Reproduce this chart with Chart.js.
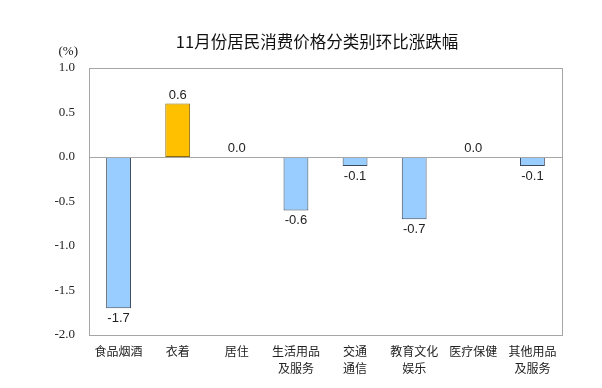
<!DOCTYPE html>
<html>
<head>
<meta charset="utf-8">
<script src="https://cdn.jsdelivr.net/npm/chart.js@4"></script>
<style>
  html, body { margin: 0; padding: 0; background: #fff; }
  #wrap { width: 602px; height: 388px; position: relative; }
</style>
</head>
<body>
<div id="wrap"><canvas id="cpiChart"></canvas></div>
<script>
const categories = [
  ["食品烟酒"], ["衣着"], ["居住"], ["生活用品", "及服务"],
  ["交通", "通信"], ["教育文化", "娱乐"], ["医疗保健"], ["其他用品", "及服务"],
];
const changes = [-1.7, 0.6, 0.0, -0.6, -0.1, -0.7, 0.0, -0.1];
const yTicks = [1.0, 0.5, 0.0, -0.5, -1.0, -1.5, -2.0];

const titleText = "11月份居民消费价格分类别环比涨跌幅";
const unitText = "(%)";

const cjkFont = "'Noto Sans CJK SC', 'Liberation Sans', sans-serif";
const serifFont = "'Liberation Serif', 'DejaVu Serif', serif";

const frame = {
  id: "frame",
  afterDatasetsDraw(chart) {
    const { ctx, chartArea: a, scales } = chart;
    ctx.save();
    ctx.strokeStyle = "#a6a6a6";
    ctx.lineWidth = 1;
    ctx.strokeRect(Math.round(a.left) + 0.5, Math.round(a.top) + 0.5,
      Math.round(a.right - a.left), Math.round(a.bottom - a.top));
    const y0 = Math.round(scales.y.getPixelForValue(0)) + 0.5;
    ctx.beginPath();
    ctx.moveTo(a.left, y0);
    ctx.lineTo(a.right, y0);
    ctx.stroke();

    // value labels
    const meta = chart.getDatasetMeta(0);
    ctx.fillStyle = "#222";
    ctx.font = "13px 'Liberation Sans', Arial, sans-serif";
    ctx.textAlign = "center";
    meta.data.forEach((bar, i) => {
      const v = changes[i];
      const label = v.toFixed(1);
      if (v < 0) {
        ctx.textBaseline = "top";
        ctx.fillText(label, bar.x, bar.y + 4);
      } else {
        ctx.textBaseline = "bottom";
        ctx.fillText(label, bar.x, bar.y - 2);
      }
    });

    // title and unit
    ctx.fillStyle = "#111";
    ctx.font = "16.5px " + cjkFont;
    ctx.textBaseline = "middle";
    ctx.textAlign = "center";
    ctx.fillText(titleText, 317, 42);
    ctx.font = "13px " + serifFont;
    ctx.textAlign = "right";
    ctx.fillText(unitText, 78, 52);
    ctx.restore();
  },
};

new Chart(document.getElementById("cpiChart"), {
  type: "bar",
  data: {
    labels: categories,
    datasets: [
      {
        data: changes,
        backgroundColor: changes.map((v) => (v > 0 ? "#ffc000" : "#99ccff")),
        borderColor: changes.map((v) => (v > 0 ? "#8a6a10" : "#3b4a5e")),
        borderWidth: 1,
        borderSkipped: false,
        barPercentage: 0.42,
        categoryPercentage: 1,
      },
    ],
  },
  options: {
    responsive: true,
    maintainAspectRatio: false,
    animation: false,
    devicePixelRatio: 1,
    layout: { padding: { top: 68, right: 40, left: 0, bottom: 0 } },
    plugins: {
      legend: { display: false },
      tooltip: { enabled: false },
    },
    scales: {
      x: {
        grid: { display: false, drawTicks: false },
        border: { display: false },
        ticks: {
          color: "#222",
          font: { family: cjkFont, size: 12, lineHeight: 1.42 },
          padding: 8,
          maxRotation: 0,
          autoSkip: false,
        },
        afterFit(scale) { scale.height = 53; },
      },
      y: {
        min: -2,
        max: 1,
        afterBuildTicks(scale) { scale.ticks = yTicks.map((value) => ({ value })); },
        grid: { display: false, drawTicks: false },
        border: { display: false },
        ticks: {
          color: "#222",
          font: { family: serifFont, size: 13 },
          padding: 14,
          callback: (v) => Number(v).toFixed(1),
        },
        afterFit(scale) { scale.width = 89; },
      },
    },
  },
  plugins: [frame],
});
</script>
</body>
</html>
